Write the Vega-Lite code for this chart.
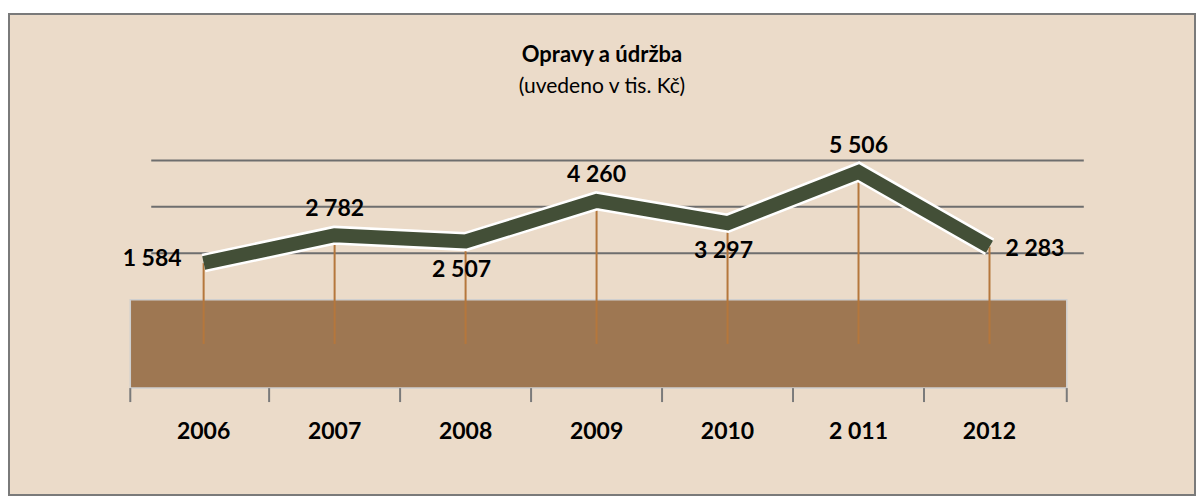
{
  "$schema": "https://vega.github.io/schema/vega-lite/v6.json",
  "width": 1204,
  "height": 504,
  "autosize": {"type": "fit", "contains": "padding"},
  "padding": {"left": 9, "top": 14, "right": 9, "bottom": 9},
  "background": "white",
  "title": {
    "text": "Opravy a údržba",
    "subtitle": "(uvedeno v tis. Kč)",
    "offset": -84,
    "anchor": "middle",
    "font": "Lato",
    "fontSize": 22,
    "fontWeight": "bold",
    "color": "black",
    "subtitleFont": "Lato",
    "subtitleFontSize": 21,
    "subtitleColor": "black",
    "subtitlePadding": 9
  },
  "config": {
    "view": {"fill": "#EBDBC9", "stroke": "#7A7A7A", "strokeWidth": 2},
    "locale": {"number": {"decimal": ",", "thousands": " ", "grouping": [3], "currency": ["", " Kč"]}},
    "text": {"font": "Lato", "fontSize": 23, "fontWeight": "bold", "color": "black"}
  },
  "datasets": {
    "main": [
      {"year": 2006, "cat": "2006", "value": 1584},
      {"year": 2007, "cat": "2007", "value": 2782},
      {"year": 2008, "cat": "2008", "value": 2507},
      {"year": 2009, "cat": "2009", "value": 4260},
      {"year": 2010, "cat": "2010", "value": 3297},
      {"year": 2011, "cat": "2 011", "value": 5506},
      {"year": 2012, "cat": "2012", "value": 2283}
    ],
    "grid": [{"g": 2000}, {"g": 4000}, {"g": 6000}],
    "floor": [{"start": 2005.44, "end": 2012.59, "top": 0, "bottom": -3800}],
    "ticks": [{"b": 2005.44}, {"b": 2006.5}, {"b": 2007.5}, {"b": 2008.5}, {"b": 2009.5}, {"b": 2010.5}, {"b": 2011.5}, {"b": 2012.59}]
  },
  "data": {"name": "main"},
  "resolve": {"scale": {"x": "shared", "y": "shared"}},
  "layer": [
    {
      "data": {"name": "grid"},
      "mark": {"type": "rule", "color": "#6E6E6E", "strokeWidth": 2},
      "encoding": {
        "x": {"datum": 2005.6, "type": "quantitative", "scale": {"domain": [2004.514, 2013.569], "nice": false, "zero": false}, "axis": null},
        "x2": {"datum": 2012.72},
        "y": {"field": "g", "type": "quantitative", "scale": {"domain": [-8400, 12300], "nice": false, "zero": false}, "axis": null}
      }
    },
    {
      "data": {"name": "floor"},
      "mark": {"type": "rect", "color": "#9E7752", "stroke": "#CFCFCF", "strokeWidth": 1.5},
      "encoding": {
        "x": {"field": "start", "type": "quantitative"},
        "x2": {"field": "end"},
        "y": {"field": "top", "type": "quantitative"},
        "y2": {"field": "bottom"}
      }
    },
    {
      "data": {"name": "ticks"},
      "mark": {"type": "rule", "color": "#7A7A7A", "strokeWidth": 2},
      "encoding": {
        "x": {"field": "b", "type": "quantitative"},
        "y": {"datum": -3800},
        "y2": {"datum": -4400}
      }
    },
    {
      "mark": {"type": "rule", "color": "#B5773C", "strokeWidth": 2},
      "encoding": {
        "x": {"field": "year", "type": "quantitative"},
        "y": {"field": "value", "type": "quantitative"},
        "y2": {"datum": -1900}
      }
    },
    {
      "mark": {"type": "line", "color": "white", "strokeWidth": 19, "strokeJoin": "miter"},
      "encoding": {
        "x": {"field": "year", "type": "quantitative"},
        "y": {"field": "value", "type": "quantitative"}
      }
    },
    {
      "mark": {"type": "line", "color": "#434F37", "strokeWidth": 14, "strokeJoin": "miter"},
      "encoding": {
        "x": {"field": "year", "type": "quantitative"},
        "y": {"field": "value", "type": "quantitative"}
      }
    },
    {
      "transform": [{"filter": {"field": "year", "oneOf": [2007, 2009, 2011]}}],
      "mark": {"type": "text", "dy": -26, "align": "center", "baseline": "middle"},
      "encoding": {
        "x": {"field": "year", "type": "quantitative"},
        "y": {"field": "value", "type": "quantitative"},
        "text": {"field": "value", "type": "quantitative", "format": ",d"}
      }
    },
    {
      "transform": [{"filter": {"field": "year", "oneOf": [2008, 2010]}}],
      "mark": {"type": "text", "dy": 28, "dx": -4, "align": "center", "baseline": "middle"},
      "encoding": {
        "x": {"field": "year", "type": "quantitative"},
        "y": {"field": "value", "type": "quantitative"},
        "text": {"field": "value", "type": "quantitative", "format": ",d"}
      }
    },
    {
      "transform": [{"filter": {"field": "year", "equal": 2006}}],
      "mark": {"type": "text", "dx": -22, "dy": -4, "align": "right", "baseline": "middle"},
      "encoding": {
        "x": {"field": "year", "type": "quantitative"},
        "y": {"field": "value", "type": "quantitative"},
        "text": {"field": "value", "type": "quantitative", "format": ",d"}
      }
    },
    {
      "transform": [{"filter": {"field": "year", "equal": 2012}}],
      "mark": {"type": "text", "dx": 16, "dy": 2, "align": "left", "baseline": "middle"},
      "encoding": {
        "x": {"field": "year", "type": "quantitative"},
        "y": {"field": "value", "type": "quantitative"},
        "text": {"field": "value", "type": "quantitative", "format": ",d"}
      }
    },
    {
      "mark": {"type": "text", "align": "center", "baseline": "middle"},
      "encoding": {
        "x": {"field": "year", "type": "quantitative"},
        "y": {"datum": -5700},
        "text": {"field": "cat", "type": "nominal"}
      }
    }
  ]
}
